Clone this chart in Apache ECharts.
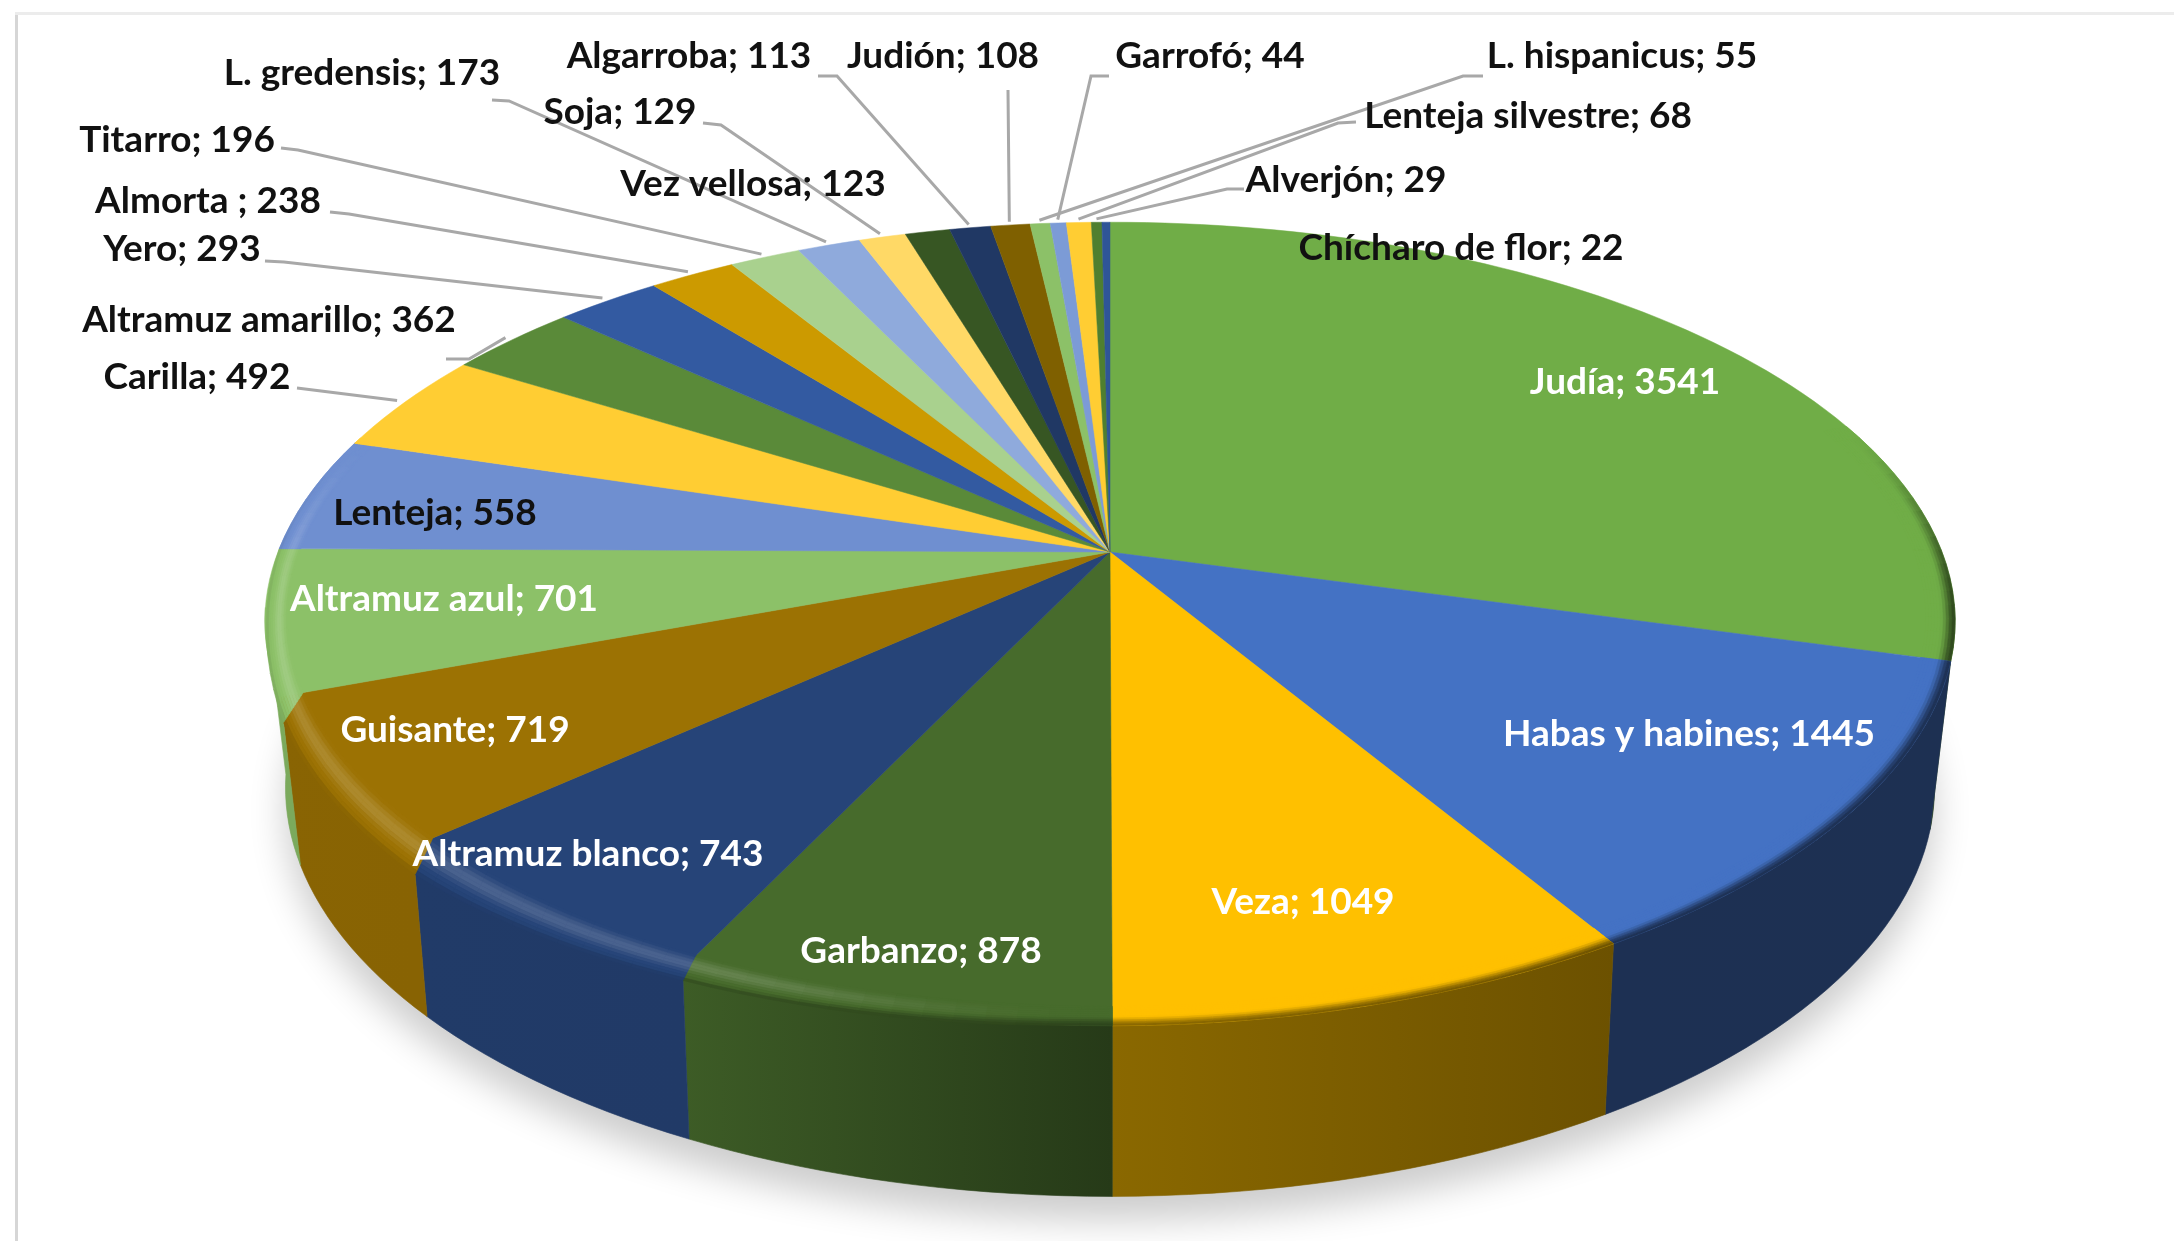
<!DOCTYPE html>
<html>
<head>
<meta charset="utf-8">
<style>html,body{margin:0;padding:0;background:#fff}#c{width:2174px;height:1241px}</style>
<script src="https://cdn.jsdelivr.net/npm/echarts@6/dist/echarts.min.js"></script>
</head>
<body>
<div id="c"></div>
<script>
const names = ['Judía','Habas y habines','Veza','Garbanzo','Altramuz blanco','Guisante','Altramuz azul','Lenteja','Carilla','Altramuz amarillo','Yero','Almorta ','Titarro','L. gredensis','Soja','Vez vellosa','Algarroba','Judión','L. hispanicus','Garrofó','Lenteja silvestre','Alverjón','Chícharo de flor'];
const values = [3541,1445,1049,878,743,719,701,558,492,362,293,238,196,173,129,123,113,108,55,44,68,29,22];
const colors = ['#70AD47','#4472C4','#FFC000','#476B2C','#264478','#9C7203','#8CC168','#6F8FD0','#FFCD33','#5A8A39','#335AA1','#CC9A00','#A9D18E','#8FAADC','#FFD966','#375623','#203864','#7F6000','#8CC168','#7C9BD6','#FFCD33','#4F7F2F','#2F5597'];
const textColors = ['#fff','#fff','#fff','#fff','#fff','#fff','#fff','#111','#111','#111','#111','#111','#111','#111','#111','#111','#111','#111','#111','#111','#111','#111','#111'];
// label centres, in px of the page
const labelCentres = [[1625,382],[1689,734],[1303,902],[921,951],[588,854],[455,730],[444,599],[435,513],[197,377],[269,320],[182,249],[208,201],[177,140],[362,73],[620,112],[753,184],[689,56],[943,56],[1622,56],[1210,56],[1528,116],[1346,180],[1461,248]];
// leader stubs: label-side start and elbow, the slice end comes from the slice's mid angle
const leaderStubs = [null,null,null,null,null,null,null,null,
 [[297,388],[313,390]],[[446,359],[469,359]],[[265,261],[284,262]],[[330,212],[349,214]],[[281,148],[298,150]],[[492,100],[509,101]],[[703,123],[721,125]],null,[[818,76],[837,76]],[[1008,90],[1008,91]],[[1483,76],[1463,76]],[[1109,76],[1091,76]],[[1356,122],[1338,123]],[[1244,189],[1227,189]],null];
// wall brightness against slice colour, by angle clockwise from 12 o'clock
const shadeStops = [[0,.42],[90,.42],[148,.42],[180,.54],[180.01,.64],[206,.72],[206.01,.86],[250,.88],[262,.92],[360,.92]];
// how far the rounded edge spills over the wall on the lit side, by angle
const lipStops = [[0,0],[182,0],[206,12],[228,28],[250,26],[262,8],[270,0],[360,0]];

const TOP = {cx:1110,b:552,a:290,c:-0.1791,R:832,k:.022};
const BOT = {cx:1110,b:718,a:275,c:-0.17,R:812.5,k:0};
const total = values.reduce((s,v)=>s+v,0);
const starts = []; { let acc=0; values.forEach(v=>{starts.push(acc/total*360); acc+=v;}); }
const D2R = Math.PI/180;
function proj(ring,deg,r){
  const u=Math.sin(deg*D2R)*r, v=-Math.cos(deg*D2R)*r, w=1+ring.c*v, vp=Math.max(0,v);
  return [ring.cx+ring.R*u/w*(1-ring.k*vp*vp),(ring.b+ring.a*v)/w];
}
function arcPts(ring,a0,a1,r){
  const n=Math.max(2,Math.ceil(Math.abs(a1-a0)/1.5)), out=[];
  for(let i=0;i<=n;i++) out.push(proj(ring,a0+(a1-a0)*i/n,r));
  return out;
}
function hex(c){return [1,3,5].map(i=>parseInt(c.substr(i,2),16));}
function css(c){return 'rgb('+c.map(x=>Math.round(Math.max(0,Math.min(255,x)))).join(',')+')';}
function mix(a,b,t){return a.map((x,i)=>x+(b[i]-x)*t);}
function lerpPt(p,q,t){return [p[0]+(q[0]-p[0])*t,p[1]+(q[1]-p[1])*t];}
function sstep(e0,e1,x){const t=Math.max(0,Math.min(1,(x-e0)/(e1-e0)));return t*t*(3-2*t);}
function table(stops,a){
  for(let i=1;i<stops.length;i++){
    if(a<=stops[i][0]){const p=stops[i-1],q=stops[i];return p[1]+(q[1]-p[1])*(a-p[0])/(q[0]-p[0]||1);}
  }
  return stops[stops.length-1][1];
}
const VIS0=98, VIS1=262;
function outerPt(a){
  const t=proj(TOP,a,1), b=proj(BOT,a,1), lip=table(lipStops,a);
  return lerpPt(t,b,b[1]>t[1]?lip/(b[1]-t[1]):0);
}
function innerR(a){return .966+.008*sstep(182,215,a);}

const shadowSeries = {type:'custom',coordinateSystem:'none',z:1,silent:true,animation:false,data:[[total]],
  renderItem(){return {type:'polygon',shape:{points:arcPts(BOT,0,360,1)},style:{fill:'#bbb',shadowBlur:36,shadowColor:'rgba(0,0,0,0.2)',shadowOffsetY:24}};}};

const wallSeries = {type:'custom',coordinateSystem:'none',z:2,silent:true,animation:false,
  data:values.map((v,i)=>[i,v]),
  renderItem(p,api){
    const i=api.value(0), a0=Math.max(starts[i],VIS0), a1=Math.min(starts[i]+api.value(1)/total*360,VIS1);
    if(a1<=a0) return {type:'group',children:[]};
    const base=hex(colors[i]);
    const top=arcPts(TOP,a0,a1,1), bot=arcPts(BOT,a0,a1,1).reverse();
    const xL=Math.min(top[0][0],top[top.length-1][0]), xR=Math.max(top[0][0],top[top.length-1][0]);
    const g=new echarts.graphic.LinearGradient(xL,0,xR,0,[
      {offset:0,color:css(base.map(x=>x*table(shadeStops,a1-.001)))},
      {offset:1,color:css(base.map(x=>x*table(shadeStops,a0+.001)))}],true);
    return {type:'polygon',shape:{points:top.concat(bot)},style:{fill:g,stroke:g,lineWidth:.6}};
  }};

const topSeries = {type:'custom',coordinateSystem:'none',z:3,silent:true,animation:false,
  data:values.map((v,i)=>[i,v]),
  renderItem(p,api){
    const i=api.value(0), a0=starts[i], a1=a0+api.value(1)/total*360;
    const base=hex(colors[i]), kids=[];
    const pts=[proj(TOP,0,0)].concat(arcPts(TOP,a0,a1,1));
    kids.push({type:'polygon',shape:{points:pts},style:{fill:colors[i],stroke:colors[i],lineWidth:.5}});
    const N=10, aS=Math.max(a0,70), aE=Math.min(a1,288);
    if(aE>aS){
      const steps=Math.ceil((aE-aS)/2);
      for(let k=0;k<steps;k++){
        const b0=aS+(aE-aS)*k/steps, b1=aS+(aE-aS)*(k+1)/steps, am=(b0+b1)/2;
        const weight=sstep(70,100,am)*(1-sstep(264,288,am));
        const wall=base.map(x=>x*table(shadeStops,Math.min(Math.max(am,a0+.001),a1-.001)));
        const L=sstep(182,206,am);
        const i0=proj(TOP,b0,innerR(b0)), i1=proj(TOP,b1,innerR(b1)), o0=outerPt(b0), o1=outerPt(b1);
        for(let j=0;j<N;j++){
          const t0=j/N, t1=(j+1)/N, s=(t0+t1)/2;
          const bump=Math.sin(Math.PI*sstep(0,.8,s));
          let c=mix(base,mix(base,[255,255,255],.17),L*bump);
          c=mix(c,wall,sstep(.5*(1+L*.6),1,s));
          c=mix(base,c,weight);
          const col=css(c);
          const q=[lerpPt(i0,o0,t0),lerpPt(i1,o1,t0),lerpPt(i1,o1,t1),lerpPt(i0,o0,t1)];
          kids.push({type:'polygon',shape:{points:q},style:{fill:col,stroke:col,lineWidth:.6}});
        }
      }
    }
    return {type:'group',children:kids};
  }};

const labelSeries = {type:'custom',coordinateSystem:'none',z:5,silent:true,animation:false,
  data:values.map((v,i)=>[i,v]),
  renderItem(p,api){
    const i=api.value(0), v=api.value(1), kids=[];
    const mid=starts[i]+v/total*180;
    if(leaderStubs[i]){
      const end=proj(TOP,mid,1.012);
      kids.push({type:'polyline',shape:{points:leaderStubs[i].concat([end])},style:{stroke:'#a8a8a8',lineWidth:3,fill:null}});
    }
    const c=labelCentres[i];
    kids.push({type:'text',style:{text:names[i]+'; '+v,x:c[0],y:c[1],fill:textColors[i],font:'700 37px Lato, "Open Sans", sans-serif',textAlign:'center',textVerticalAlign:'middle'}});
    return {type:'group',children:kids};
  }};

const chart = echarts.init(document.getElementById('c'),null,{renderer:'canvas'});
chart.setOption({
  backgroundColor:'#fff',animation:false,
  graphic:[
    {type:'rect',silent:true,z:0,shape:{x:15,y:13,width:3,height:1228},style:{fill:'#d6d6d6'}},
    {type:'rect',silent:true,z:0,shape:{x:15,y:12,width:2159,height:3},style:{fill:'#ececec'}}
  ],
  series:[shadowSeries,wallSeries,topSeries,labelSeries]
});
</script>
</body>
</html>
